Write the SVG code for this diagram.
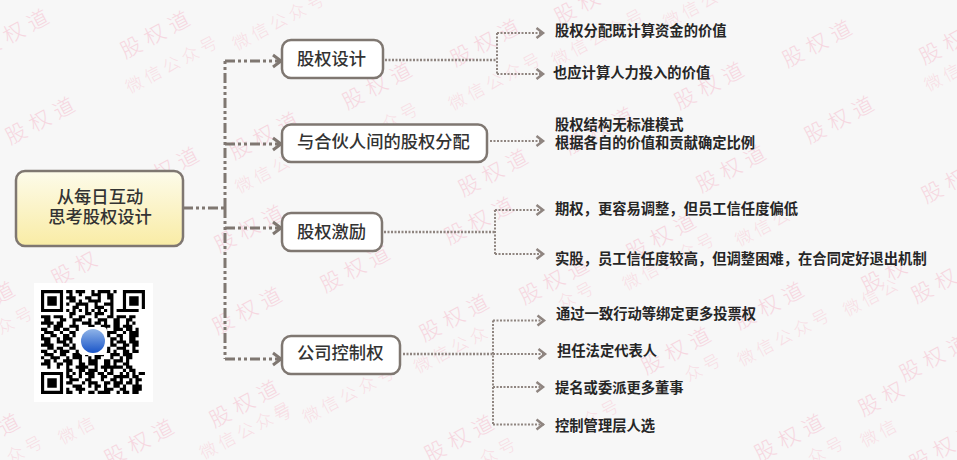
<svg xmlns="http://www.w3.org/2000/svg" width="957" height="460" viewBox="0 0 957 460">
<style>
.w{font-family:"Noto Sans CJK SC","Noto Sans",sans-serif;font-size:21px;font-weight:300;fill:#f6d6df;letter-spacing:6px;text-anchor:middle}
.x{font-family:"Noto Sans CJK SC","Noto Sans",sans-serif;font-size:17px;font-weight:300;fill:#f7dee5;letter-spacing:4px;text-anchor:middle}
.n{fill:#fff;stroke:#7f7771;stroke-width:2.5}
.t{font-family:"Noto Sans CJK SC","Noto Sans",sans-serif;font-size:17.3px;font-weight:500;fill:#333}
.l{font-family:"Noto Sans CJK SC","Noto Sans",sans-serif;font-size:14.3px;font-weight:700;fill:#262626}
.a{fill:none;stroke:#7f7771;stroke-width:3;stroke-dasharray:10 3 3 3 3 3}
.b{fill:none;stroke:#8f8580;stroke-width:2.5;stroke-dasharray:2 1.5}
.c{fill:none;stroke:#8f8580;stroke-width:2;stroke-dasharray:2 1.5}
</style>
<defs>
<linearGradient id="g2" x1="0" y1="0" x2="0" y2="1"><stop offset="0" stop-color="#fdfbea"/><stop offset="1" stop-color="#f9eca5"/></linearGradient>
<linearGradient id="q" x1="0" y1="0" x2="0" y2="1"><stop offset="0" stop-color="#8fb4e8"/><stop offset="1" stop-color="#1a55c8"/></linearGradient>
<marker id="ma" markerUnits="userSpaceOnUse" markerWidth="14" markerHeight="16" refX="11" refY="8" orient="auto"><path d="M2 2L10 8L2 14" fill="none" stroke="#7f7771" stroke-width="3"/></marker>
<marker id="mb" markerUnits="userSpaceOnUse" markerWidth="11" markerHeight="14" refX="9" refY="7" orient="auto"><path d="M1.500 2L8 7L1.500 12" fill="none" stroke="#8f8580" stroke-width="2.500"/></marker>
</defs>
<rect width="957" height="460" fill="#f7f7f7"/>
<g id="watermark" transform="translate(5,-2)">
<g class="w">
<text transform="translate(15,40) rotate(-28)">股权道</text>
<text transform="translate(156,42) rotate(-28)">股权道</text>
<text transform="translate(41,128) rotate(-28)">股权道</text>
<text transform="translate(378,93) rotate(-28)">股权道</text>
<text transform="translate(486,50) rotate(-28)">股权道</text>
<text transform="translate(818,51) rotate(-28)">股权道</text>
<text transform="translate(710,93) rotate(-28)">股权道</text>
<text transform="translate(840,127) rotate(-28)">股权道</text>
<text transform="translate(732,176) rotate(-28)">股权道</text>
<text transform="translate(955,48) rotate(-28)">股权道</text>
<text transform="translate(590,8) rotate(-28)">股权道</text>
<text transform="translate(600,138) rotate(-28)">股权道</text>
<text transform="translate(494,180) rotate(-28)">股权道</text>
<text transform="translate(480,228) rotate(-28)">股权道</text>
<text transform="translate(356,276) rotate(-28)">股权道</text>
<text transform="translate(662,244) rotate(-28)">股权道</text>
<text transform="translate(555,288) rotate(-28)">股权道</text>
<text transform="translate(885,283) rotate(-28)">股权</text>
<text transform="translate(935,293) rotate(-28)">股权</text>
<text transform="translate(945,193) rotate(-28)">股权</text>
<text transform="translate(770,313) rotate(-28)">股权道</text>
<text transform="translate(677,358) rotate(-28)">股权道</text>
<text transform="translate(935,365) rotate(-28)">股权道</text>
<text transform="translate(882,406) rotate(-28)">股权</text>
<text transform="translate(790,445) rotate(-28)">股权道</text>
<text transform="translate(945,455) rotate(-28)">股权道</text>
<text transform="translate(455,325) rotate(-28)">股权道</text>
<text transform="translate(460,446) rotate(-28)">股权道</text>
<text transform="translate(75,276) rotate(-28)">股权</text>
<text transform="translate(248,318) rotate(-28)">股权道</text>
<text transform="translate(250,236) rotate(-28)">股权道</text>
<text transform="translate(165,178) rotate(-28)">股权道</text>
<text transform="translate(5,300) rotate(-28)">道</text>
<text transform="translate(245,411) rotate(-28)">股权道</text>
<text transform="translate(140,450) rotate(-28)">股权道</text>
<text transform="translate(10,432) rotate(-28)">道</text>
<text transform="translate(265,143) rotate(-28)">股权道</text>
</g>
<g class="x">
<text transform="translate(171,71) rotate(-28)">微信公众号</text>
<text transform="translate(278,28) rotate(-28)">微信公众号</text>
<text transform="translate(494,88) rotate(-28)">微信公众号</text>
<text transform="translate(390,128) rotate(-28)">公众号</text>
<text transform="translate(597,44) rotate(-28)">微信公众号</text>
<text transform="translate(690,16) rotate(-28)">微信公</text>
<text transform="translate(942,84) rotate(-28)">微信</text>
<text transform="translate(762,234) rotate(-28)">微信公</text>
<text transform="translate(668,268) rotate(-28)">微信公众号</text>
<text transform="translate(575,302) rotate(-28)">众号</text>
<text transform="translate(870,304) rotate(-28)">微信公</text>
<text transform="translate(783,344) rotate(-28)">微信公众号</text>
<text transform="translate(702,374) rotate(-28)">众号</text>
<text transform="translate(600,420) rotate(-28)">众号</text>
<text transform="translate(825,457) rotate(-28)">众号</text>
<text transform="translate(878,440) rotate(-28)">微信</text>
<text transform="translate(348,401) rotate(-28)">微信公众号</text>
<text transform="translate(450,356) rotate(-28)">微信公众</text>
<text transform="translate(14,327) rotate(-28)">众号</text>
<text transform="translate(76,437) rotate(-28)">微信</text>
<text transform="translate(24,456) rotate(-28)">众号</text>
<text transform="translate(245,437) rotate(-28)">微信公众号</text>
<text transform="translate(497,458) rotate(-28)">众号</text>
<text transform="translate(262,181) rotate(-28)">微信公</text>
<text transform="translate(282,420) rotate(-28)">号</text>
</g>
</g>
<g id="connectors">
<path class="a" d="M183 208H225"/>
<path class="a" d="M225 208V61"/>
<path class="a" d="M225 208V359"/>
<path class="a" d="M225 61H282" marker-end="url(#ma)"/>
<path class="a" d="M225 144H282" marker-end="url(#ma)"/>
<path class="a" d="M225 228H282" marker-end="url(#ma)"/>
<path class="a" d="M225 359H282" marker-end="url(#ma)"/>
<path class="b" d="M385 60H497"/>
<path class="c" d="M497 33V74"/>
<path class="c" d="M497 33H544" marker-end="url(#mb)"/>
<path class="c" d="M497 74H544" marker-end="url(#mb)"/>
<path class="c" d="M490 141H544" marker-end="url(#mb)"/>
<path class="b" d="M384 232H495"/>
<path class="c" d="M495 210V254"/>
<path class="c" d="M495 210H544" marker-end="url(#mb)"/>
<path class="c" d="M495 254H544" marker-end="url(#mb)"/>
<path class="b" d="M403 354H493"/>
<path class="c" d="M493 320.500V424.500"/>
<path class="c" d="M493 320.500H545" marker-end="url(#mb)"/>
<path class="c" d="M493 354H546" marker-end="url(#mb)"/>
<path class="c" d="M493 387H544" marker-end="url(#mb)"/>
<path class="c" d="M493 424.500H544" marker-end="url(#mb)"/>
</g>
<g id="root"><rect x="16" y="171" width="167" height="75" rx="9" fill="url(#g2)" stroke="#7f7771" stroke-width="2.500"/><text class="t" x="100" y="203" text-anchor="middle">从每日互动</text><text class="t" x="100" y="223" text-anchor="middle">思考股权设计</text></g>
<g id="n1"><rect class="n" x="282" y="40" width="101" height="38" rx="9"/><text class="t" x="297" y="65">股权设计</text></g>
<g id="n2"><rect class="n" x="282" y="124.500" width="205" height="37.500" rx="9"/><text class="t" x="297" y="148">与合伙人间的股权分配</text></g>
<g id="n3"><rect class="n" x="282" y="213" width="100" height="38" rx="9"/><text class="t" x="297" y="238">股权激励</text></g>
<g id="n4"><rect class="n" x="282" y="336" width="118" height="38" rx="9"/><text class="t" x="297" y="359">公司控制权</text></g>
<g id="l1"><text class="l" x="555" y="36">股权分配既计算资金的价值</text></g>
<g id="l2"><text class="l" x="553" y="78">也应计算人力投入的价值</text></g>
<g id="l3"><text class="l" x="555" y="130">股权结构无标准模式</text><text class="l" x="555" y="148">根据各自的价值和贡献确定比例</text></g>
<g id="l4"><text class="l" x="555" y="214">期权，更容易调整，但员工信任度偏低</text></g>
<g id="l5"><text class="l" x="555" y="264">实股，员工信任度较高，但调整困难，在合同定好退出机制</text></g>
<g id="l6"><text class="l" x="556" y="319">通过一致行动等绑定更多投票权</text></g>
<g id="l7"><text class="l" x="557" y="356">担任法定代表人</text></g>
<g id="l8"><text class="l" x="555" y="393">提名或委派更多董事</text></g>
<g id="l9"><text class="l" x="555" y="431">控制管理层人选</text></g>
<g id="qr">
<rect x="34" y="283" width="119" height="119" fill="#fff"/>
<g transform="translate(41,290) scale(3.150)">
<path fill="none" stroke="#000" d="M0 .5h7m19 0h7M0 1.500h1m5 0h1m19 0h1m5 0h1M0 2.500h1m1 0h3m1 0h1m19 0h1m1 0h3m1 0h1M0 3.500h1m1 0h3m1 0h1m19 0h1m1 0h3m1 0h1M0 4.500h1m1 0h3m1 0h1m19 0h1m1 0h3m1 0h1M0 5.500h1m5 0h1m19 0h1m5 0h1M0 6.500h7m1 0h1m1 0h1m1 0h1m1 0h1m1 0h1m1 0h1m1 0h1m1 0h1m1 0h7M0 26.500h7m1 0h1m1 0h1m1 0h1M0 27.500h1m5 0h1M0 28.500h1m1 0h3m1 0h1M0 29.500h1m1 0h3m1 0h1M0 30.500h1m1 0h3m1 0h1M0 31.500h1m5 0h1M0 32.500h7"/>
<path fill="none" stroke="#000" d="M8 .5h2m1 0h3m2 0h1m1 0h4m1 0h1M9 1.500h1m2 0h1m3 0h3m2 0h2M8 2.500h3m3 0h2m2 0h1m2 0h2M9 3.500h2m1 0h1m2 0h4m3 0h1M8 4.500h1m2 0h4m2 0h1m2 0h3M10 5.500h2m2 0h1m2 0h3m2 0h1M9 7.500h2m3 0h2m1 0h3m2 0h1M0 8.500h3m1 0h3m2 0h1m2 0h2m3 0h1m3 0h2m1 0h3m1 0h2M1 9.500h2m3 0h2m2 0h3m2 0h1m2 0h3m2 0h2m2 0h2M0 10.500h4m1 0h2m3 0h1m2 0h3m1 0h2m1 0h1m2 0h2m2 0h1m1 0h1M2 11.500h1m1 0h3m2 0h3m3 0h2m2 0h3m1 0h2m1 0h3M0 12.500h2m2 0h2m1 0h2m2 0h1m8 0h1m2 0h3m1 0h2m1 0h1M1 13.500h3m2 0h1m2 0h2m10 0h3m2 0h1m1 0h3M0 14.500h1m2 0h2m2 0h2m1 0h1m10 0h1m2 0h2m2 0h3M0 15.500h3m2 0h1m1 0h3m12 0h2m1 0h1m2 0h2M1 16.500h2m2 0h3m1 0h1m12 0h1m1 0h3m1 0h3M0 17.500h4m3 0h2m1 0h1m11 0h2m2 0h2m1 0h2M2 18.500h2m1 0h2m2 0h2m10 0h1m2 0h3m2 0h1M0 19.500h2m2 0h1m1 0h3m2 0h1m8 0h2m1 0h1m2 0h2m1 0h2M1 20.500h3m2 0h2m2 0h3m1 0h1m2 0h3m2 0h3m1 0h3M0 21.500h1m2 0h3m2 0h1m1 0h3m2 0h1m1 0h2m3 0h1m2 0h1m1 0h2M1 22.500h2m1 0h1m2 0h3m2 0h1m2 0h3m2 0h2m1 0h3m1 0h1M0 23.500h3m2 0h2m1 0h2m2 0h2m1 0h3m2 0h2m1 0h1m2 0h2M2 24.500h1m2 0h1m2 0h1m2 0h4m2 0h1m1 0h7m1 0h2M8 25.500h2m2 0h2m1 0h3m2 0h1m1 0h1m3 0h1m1 0h2M14 26.500h3m1 0h2m1 0h2m2 0h1m1 0h1m1 0h1m1 0h2M8 27.500h2m2 0h1m2 0h2m2 0h2m2 0h5m1 0h2M9 28.500h3m2 0h2m3 0h1m2 0h2m1 0h1m2 0h1m1 0h2M8 29.500h2m3 0h1m1 0h3m2 0h2m1 0h3m1 0h2m1 0h1M10 30.500h3m2 0h1m1 0h2m1 0h1m2 0h2m1 0h1m2 0h3M8 31.500h1m2 0h3m3 0h1m2 0h3m2 0h2m2 0h3M8 32.500h2m2 0h1m2 0h2m1 0h4m2 0h1m1 0h2m1 0h2"/>
</g>
<rect x="79" y="327" width="28" height="28" rx="4" fill="#fff"/>
<circle cx="93" cy="341" r="12" fill="url(#q)"/>
</g>
</svg>
